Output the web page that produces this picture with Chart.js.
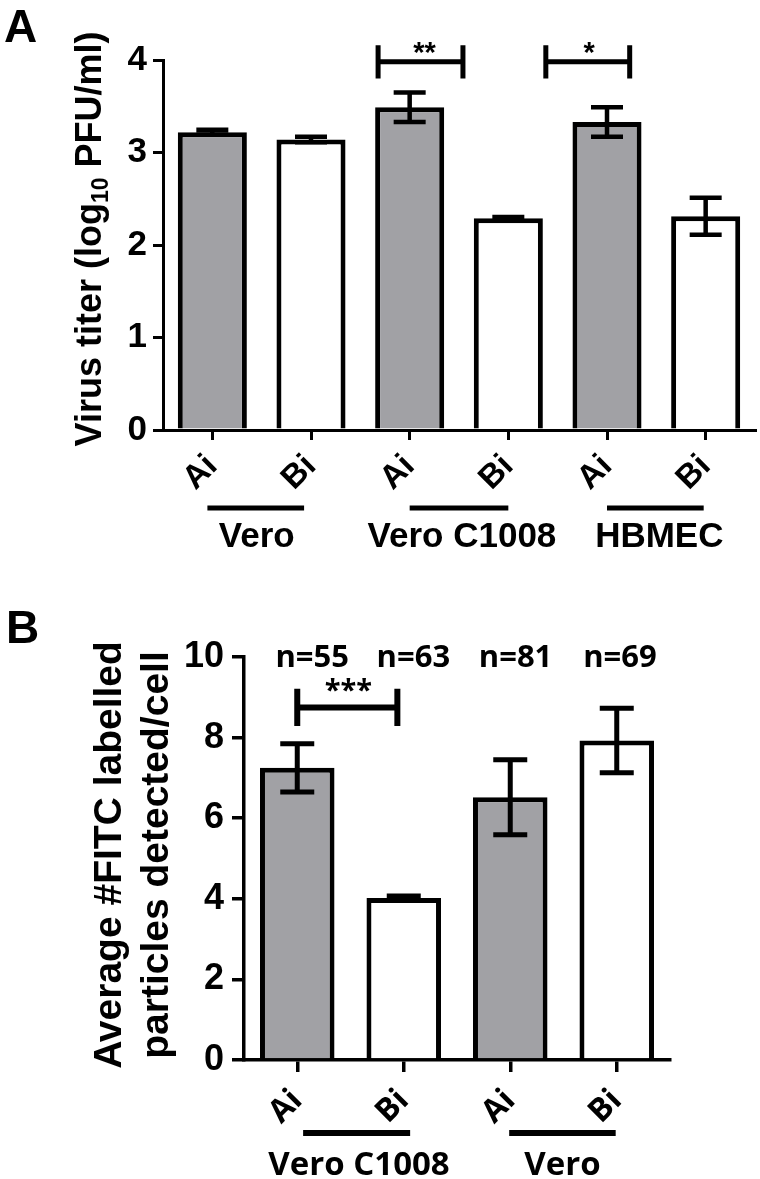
<!DOCTYPE html>
<html>
<head>
<meta charset="utf-8">
<script src="https://cdn.jsdelivr.net/npm/chart.js@4.4.1/dist/chart.umd.min.js"></script>
<style>
  html, body { margin: 0; padding: 0; background: #fff; }
  #wrap { position: relative; width: 760px; height: 1179px; }
  canvas { position: absolute; left: 0; }
  #chartA { top: 0; }
  #chartB { top: 590px; }
</style>
</head>
<body>
<div id="wrap">
  <canvas id="chartA" width="760" height="590"></canvas>
  <canvas id="chartB" width="760" height="589"></canvas>
</div>
<script>
// --- Panel A: virus titer ---
const titerLabels = ["Ai", "Bi", "Ai", "Bi", "Ai", "Bi"];
const titerValues = [3.22, 3.14, 3.49, 2.29, 3.33, 2.31];
const titerErrors = [0.025, 0.03, 0.16, 0.012, 0.16, 0.2];
const titerGroups = ["Vero", "Vero C1008", "HBMEC"];
const titerStars  = ["**", "*"];
const titerTicks  = [0, 1, 2, 3, 4];

// --- Panel B: FITC particles per cell ---
const particleLabels = ["Ai", "Bi", "Ai", "Bi"];
const particleValues = [7.25, 4.02, 6.52, 7.93];
const particleErrors = [0.6, 0.05, 0.93, 0.8];
const particleCounts = [55, 63, 81, 69];
const particleGroups = ["Vero C1008", "Vero"];
const particleStars  = ["***"];
const particleTicks  = [0, 2, 4, 6, 8, 10];

const GREY  = "#a1a1a5";
const ARIAL = "'Liberation Sans', Arial, sans-serif";
const OPEN  = "'Open Sans', 'Liberation Sans', sans-serif";

function fillFor(labels) {
  return labels.map(l => l === "Ai" ? GREY : "#ffffff");
}

// error bars, brackets, group lines, titles
function overlay(cfg) {
  return {
    id: "overlay",
    afterDatasetsDraw(chart) {
      const ctx  = chart.ctx;
      const y    = chart.scales.y;
      const bars = chart.getDatasetMeta(0).data;
      ctx.save();
      ctx.strokeStyle = "#000";
      ctx.lineWidth   = cfg.errWidth;
      cfg.values.forEach((v, i) => {
        const e  = cfg.errors[i];
        const cx = bars[i].x;
        const hi = y.getPixelForValue(v + e);
        const lo = y.getPixelForValue(v - e);
        ctx.beginPath();
        ctx.moveTo(cx, hi); ctx.lineTo(cx, lo);
        ctx.moveTo(cx - cfg.cap, hi); ctx.lineTo(cx + cfg.cap, hi);
        ctx.moveTo(cx - cfg.cap, lo); ctx.lineTo(cx + cfg.cap, lo);
        ctx.stroke();
      });
      ctx.restore();
    },
    afterDraw(chart) {
      const ctx = chart.ctx;
      const x   = chart.scales.x;
      const y   = chart.scales.y;
      ctx.save();
      ctx.fillStyle   = "#000";
      ctx.strokeStyle = "#000";

      // significance brackets
      cfg.brackets.forEach((b, i) => {
        const x1 = x.getPixelForValue(b.from), x2 = x.getPixelForValue(b.to);
        const ym = y.getPixelForValue(b.y);
        const yt = y.getPixelForValue(b.y + b.h), yb = y.getPixelForValue(b.y - b.h);
        ctx.lineWidth = cfg.bracketWidth;
        ctx.beginPath();
        ctx.moveTo(x1, ym); ctx.lineTo(x2, ym);
        ctx.moveTo(x1, yt); ctx.lineTo(x1, yb);
        ctx.moveTo(x2, yt); ctx.lineTo(x2, yb);
        ctx.stroke();
        ctx.font = cfg.starFont;
        ctx.textAlign = "center";
        ctx.textBaseline = "alphabetic";
        ctx.fillText(cfg.stars[i], x.getPixelForValue(b.textAt), ym - b.lift);
      });

      // n= counts above bars
      if (cfg.counts) {
        ctx.font = cfg.countFont;
        ctx.textAlign = "center";
        cfg.counts.forEach((n, i) => {
          ctx.fillText("n=" + n, x.getPixelForValue(i + cfg.countShift[i]), cfg.countY);
        });
      }

      // group underlines and names
      cfg.groups.forEach((g, i) => {
        const [a, b] = cfg.groupSpan[i];
        ctx.lineWidth = cfg.groupWidth;
        ctx.beginPath();
        ctx.moveTo(x.getPixelForValue(a), cfg.groupLineY);
        ctx.lineTo(x.getPixelForValue(b), cfg.groupLineY);
        ctx.stroke();
        ctx.font = cfg.groupFont;
        ctx.textAlign = "center";
        ctx.fillText(g, x.getPixelForValue(cfg.groupText[i]), cfg.groupTextY);
      });

      // rotated y title (drawn by hand for the subscript)
      ctx.save();
      ctx.translate(0, cfg.titleCenterY);
      ctx.rotate(-Math.PI / 2);
      ctx.textBaseline = "alphabetic";
      cfg.title.forEach((line, li) => {
        const parts = Array.isArray(line) ? line : [[line, false]];
        let total = 0;
        parts.forEach(([t, sub]) => {
          ctx.font = sub ? cfg.subFont : cfg.titleFont;
          total += ctx.measureText(t).width;
        });
        let pos = -total / 2;
        ctx.textAlign = "left";
        parts.forEach(([t, sub]) => {
          ctx.font = sub ? cfg.subFont : cfg.titleFont;
          ctx.fillText(t, pos, cfg.titleX[li] + (sub ? cfg.subDrop : 0));
          pos += ctx.measureText(t).width;
        });
      });
      ctx.restore();

      // panel letter
      ctx.font = "bold 46px " + ARIAL;
      ctx.textAlign = "left";
      ctx.fillText(cfg.letter, cfg.letterPos[0], cfg.letterPos[1]);
      ctx.restore();
    }
  };
}

function axisOptions(o) {
  return {
    x: {
      offset: true,
      afterFit: s => { s.height = o.xHeight; },
      grid:   { display: true, drawOnChartArea: false, offset: false, color: "#000", lineWidth: o.axisWidth, tickLength: o.tickLen },
      border: { display: true, color: "#000", width: o.axisWidth },
      ticks:  { color: "#000", font: { family: o.xFamily, size: o.xFont, weight: "bold" }, minRotation: 45, maxRotation: 45, autoSkip: false, padding: o.xPad }
    },
    y: {
      min: 0,
      max: o.yTicks[o.yTicks.length - 1],
      afterFit: s => { s.width = o.yWidth; },
      afterBuildTicks: s => { s.ticks = o.yTicks.map(v => ({ value: v })); },
      grid:   { display: true, drawOnChartArea: false, color: "#000", lineWidth: o.axisWidth, tickLength: o.tickLen },
      border: { display: true, color: "#000", width: o.axisWidth },
      ticks:  { color: "#000", font: { family: ARIAL, size: o.yFont, weight: "bold" }, padding: o.yPad }
    }
  };
}

function makeChart(id, labels, values, padding, scales, plugin) {
  return new Chart(document.getElementById(id), {
    type: "bar",
    data: {
      labels,
      datasets: [{
        data: values,
        backgroundColor: fillFor(labels),
        borderColor: "#000",
        borderWidth: 5,
        barPercentage: 0.70,
        categoryPercentage: 1.0
      }]
    },
    options: {
      responsive: false,
      animation: false,
      layout: { padding },
      plugins: { legend: { display: false }, tooltip: { enabled: false } },
      scales
    },
    plugins: [plugin]
  });
}

makeChart("chartA", titerLabels, titerValues,
  { left: 0, right: 5, top: 60, bottom: 0 },
  axisOptions({ xHeight: 160, yWidth: 163, axisWidth: 3, tickLen: 10, xPad: 7, yPad: 6, yFont: 35, xFont: 33, xFamily: ARIAL, yTicks: titerTicks }),
  overlay({
    values: titerValues, errors: titerErrors, errWidth: 4.5, cap: 16,
    brackets: [
      { from: 1.68, to: 2.54, y: 3.98, h: 0.18, textAt: 2.15, lift: 0 },
      { from: 3.38, to: 4.23, y: 3.98, h: 0.18, textAt: 3.82, lift: 0 }
    ],
    stars: titerStars, bracketWidth: 5, starFont: "bold 29px " + ARIAL,
    groups: titerGroups,
    groupSpan: [[-0.05, 0.93], [2.0, 3.0], [4.0, 4.98]],
    groupText: [0.45, 2.53, 4.53],
    groupLineY: 508, groupTextY: 547, groupWidth: 5, groupFont: "bold 35px " + ARIAL,
    title: [[["Virus titer (log", false], ["10", true], [" PFU/ml)", false]]],
    titleFont: "bold 36px " + ARIAL, subFont: "bold 23px " + ARIAL, subDrop: 7,
    titleX: [101], titleCenterY: 239,
    letter: "A", letterPos: [4, 42]
  })
);

makeChart("chartB", particleLabels, particleValues,
  { left: 0, right: 90, top: 67, bottom: 0 },
  axisOptions({ xHeight: 119, yWidth: 244, axisWidth: 3.5, tickLen: 12, xPad: 10, yPad: 8, yFont: 36, xFont: 32, xFamily: OPEN, yTicks: particleTicks }),
  overlay({
    values: particleValues, errors: particleErrors, errWidth: 5, cap: 17,
    brackets: [
      { from: 0, to: 0.94, y: 8.75, h: 0.46, textAt: 0.48, lift: 7 }
    ],
    stars: particleStars, bracketWidth: 6, starFont: "bold 29px " + OPEN,
    counts: particleCounts, countShift: [0.14, 0.09, 0.05, 0.03], countY: 77, countFont: "bold 31px " + OPEN,
    groups: particleGroups,
    groupSpan: [[0.055, 1.06], [1.99, 2.99]],
    groupText: [0.58, 2.49],
    groupLineY: 543, groupTextY: 585, groupWidth: 6, groupFont: "bold 33px " + OPEN,
    title: ["Average #FITC labelled", "particles detected/cell"],
    titleFont: "bold 39px " + ARIAL, subFont: "bold 23px " + ARIAL, subDrop: 0,
    titleX: [121, 168], titleCenterY: 265,
    letter: "B", letterPos: [6, 53]
  })
);
</script>
</body>
</html>
